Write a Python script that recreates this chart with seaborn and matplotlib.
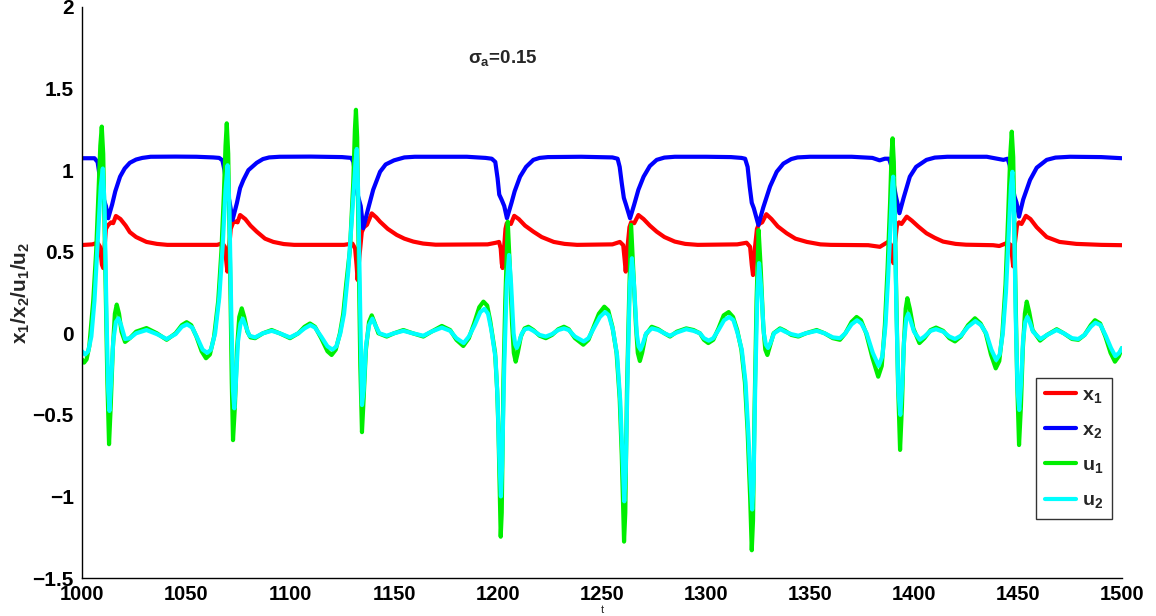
import matplotlib
matplotlib.use("Agg")
import matplotlib.pyplot as plt
import seaborn as sns
import numpy as np
import pandas as pd
from matplotlib.ticker import FuncFormatter

# ---------------- data ----------------
x2_t = [1000, 1006, 1007.5, 1009, 1010.5, 1011.5, 1012.6, 1014.5, 1016, 1018.3, 1020.5, 1023, 1026, 1029, 1033, 1045, 1055, 1063, 1066,
        1067.5, 1068.5, 1069.5, 1071, 1072.4, 1074.5, 1076, 1077.6, 1080, 1084, 1087, 1090, 1095, 1110, 1125, 1129.5,
        1130.5, 1131.5, 1132.5, 1134, 1135.2, 1137.5, 1140, 1143.3, 1146, 1150, 1155, 1160, 1185, 1194, 1197,
        1198.7, 1199.8, 1200.6, 1201.8, 1203, 1204.3, 1206.5, 1208, 1210.6, 1213.5, 1217, 1220, 1224, 1240, 1255, 1257.5,
        1258.5, 1259.5, 1260.5, 1261.5, 1263.5, 1265.5, 1267.5, 1270, 1273, 1276.3, 1280, 1285, 1300, 1312, 1317, 1318.8,
        1320, 1321, 1322, 1323, 1325.2, 1327.5, 1330.8, 1334, 1337.2, 1341, 1344, 1350, 1370, 1380, 1383.5, 1386, 1388,
        1389, 1390, 1391.3, 1392, 1393, 1395, 1398, 1401, 1406, 1410, 1416, 1435, 1440, 1443, 1445,
        1446, 1447, 1448.3, 1449.3, 1450.5, 1452.5, 1455.8, 1459, 1463.8, 1468, 1475, 1490, 1500]
x2_v = [1.073, 1.073, 1.05, 0.92, 0.82, 0.78, 0.705, 0.79, 0.87, 0.96, 1.01, 1.045, 1.065, 1.075, 1.082, 1.083, 1.082, 1.078, 1.075,
        1.06, 1.0, 0.90, 0.80, 0.695, 0.80, 0.89, 0.94, 1.0, 1.045, 1.068, 1.078, 1.082, 1.083, 1.08, 1.075,
        1.05, 0.95, 0.85, 0.78, 0.644, 0.76, 0.88, 0.99, 1.035, 1.06, 1.078, 1.082, 1.082, 1.075, 1.07,
        1.05, 0.95, 0.85, 0.817, 0.78, 0.705, 0.80, 0.87, 0.96, 1.02, 1.063, 1.075, 1.08, 1.082, 1.078, 1.07,
        1.02, 0.92, 0.83, 0.79, 0.705, 0.79, 0.88, 0.96, 1.025, 1.063, 1.077, 1.082, 1.082, 1.08, 1.075, 1.07,
        1.02, 0.90, 0.80, 0.766, 0.664, 0.77, 0.90, 0.99, 1.04, 1.068, 1.078, 1.082, 1.082, 1.075, 1.06, 1.07, 1.07,
        1.03, 0.93, 0.84, 0.80, 0.736, 0.83, 0.96, 1.02, 1.063, 1.077, 1.082, 1.082, 1.07, 1.063, 1.07,
        1.03, 0.93, 0.84, 0.80, 0.715, 0.82, 0.94, 1.015, 1.063, 1.077, 1.082, 1.08, 1.073]

x1_t = [1000, 1005, 1007.5, 1008.7, 1009.6, 1010.2, 1010.8, 1011.5, 1012.6, 1014, 1015, 1016.3, 1018.5, 1021, 1023, 1026, 1031, 1036, 1041, 1065,
        1067.5, 1068.7, 1069.3, 1069.9, 1070.6, 1071.5, 1072.7, 1074, 1074.8, 1076, 1078.5, 1081, 1084, 1088, 1092, 1097, 1102, 1126,
        1130, 1131.3, 1132.0, 1132.5, 1133.3, 1134.5, 1135.5, 1137, 1139.3, 1141.5, 1143.3, 1147, 1151.3, 1155, 1159.3, 1164, 1170, 1195,
        1199, 1200.5, 1201.3, 1201.8, 1202.2, 1202.9, 1203.6, 1204.2, 1205.5, 1206.2, 1207.8, 1210, 1213, 1217, 1221, 1226.8, 1232, 1238, 1255,
        1258.6, 1260.2, 1260.9, 1261.4, 1262.2, 1263.2, 1264, 1265.5, 1267.5, 1270, 1273, 1276.3, 1280, 1285, 1290, 1296, 1315,
        1319.5, 1321.2, 1322.0, 1322.6, 1323.5, 1324.5, 1325.5, 1327, 1329, 1331.5, 1334.5, 1338.8, 1343, 1348.5, 1355, 1360, 1378,
        1383.6, 1387.5, 1389, 1389.6, 1390.1, 1390.8, 1391.8, 1392.8, 1394, 1396.5, 1399, 1402, 1406, 1410, 1414, 1420, 1425, 1438,
        1441, 1445, 1446.6, 1447.2, 1447.7, 1448.5, 1449.5, 1450.5, 1451.7, 1453.8, 1456, 1459, 1463.8, 1470, 1478, 1490, 1500]
x1_v = [0.541, 0.545, 0.555, 0.53, 0.42, 0.40, 0.52, 0.64, 0.664, 0.68, 0.675, 0.719, 0.70, 0.66, 0.62, 0.59, 0.56, 0.548, 0.542, 0.542,
        0.552, 0.53, 0.45, 0.378, 0.50, 0.64, 0.68, 0.685, 0.68, 0.725, 0.70, 0.66, 0.623, 0.58, 0.56, 0.547, 0.542, 0.542,
        0.55, 0.52, 0.42, 0.327, 0.46, 0.62, 0.65, 0.665, 0.735, 0.71, 0.684, 0.64, 0.603, 0.58, 0.562, 0.55, 0.543, 0.545,
        0.555, 0.56, 0.52, 0.43, 0.40, 0.52, 0.64, 0.674, 0.675, 0.67, 0.72, 0.70, 0.66, 0.623, 0.59, 0.56, 0.548, 0.542, 0.545,
        0.56, 0.54, 0.45, 0.378, 0.52, 0.65, 0.68, 0.675, 0.725, 0.70, 0.66, 0.623, 0.59, 0.562, 0.548, 0.542, 0.545,
        0.555, 0.53, 0.42, 0.357, 0.52, 0.64, 0.67, 0.68, 0.73, 0.70, 0.655, 0.613, 0.58, 0.56, 0.545, 0.542, 0.54,
        0.53, 0.56, 0.54, 0.47, 0.43, 0.55, 0.66, 0.68, 0.67, 0.715, 0.69, 0.655, 0.613, 0.585, 0.562, 0.548, 0.543, 0.54,
        0.535, 0.555, 0.54, 0.47, 0.41, 0.55, 0.66, 0.68, 0.67, 0.72, 0.70, 0.65, 0.59, 0.56, 0.548, 0.542, 0.54]

u1_t = [1000, 1001, 1002.2, 1003.5, 1005.4, 1006.8, 1007.8, 1008.8, 1009.5, 1010.2, 1011.2, 1012.2, 1013, 1013.8, 1014.8, 1015.8, 1016.7,
        1017.8, 1019, 1020.7, 1023, 1026, 1031, 1036, 1040.7, 1045, 1048, 1050.3, 1052.5, 1055, 1057.5, 1059.6, 1061.5, 1063.5,
        1065.5, 1067, 1068.2, 1069, 1069.6, 1070.3, 1071.2, 1072, 1072.6, 1073.5, 1074.5, 1075.6, 1076.8, 1078, 1079.5, 1081,
        1083.2, 1087, 1091.2, 1095, 1100, 1104, 1107, 1109.6, 1112, 1115, 1118, 1120, 1122, 1124, 1125.6, 1127, 1128.8, 1130.4,
        1131.2, 1131.7, 1132.3, 1133, 1133.8, 1134.6, 1135.4, 1136.5, 1138, 1139.3, 1140.5, 1142.5, 1146.5, 1150, 1154.5, 1159,
        1164.1, 1168, 1173, 1177, 1180, 1183.3, 1186, 1188.5, 1191, 1193, 1194.8, 1196.2, 1198.6, 1199.6, 1200.2, 1200.8, 1201.3,
        1201.8, 1202.6, 1203.5, 1204.7, 1205.7, 1206.8, 1207.6, 1208.5, 1209.5, 1211, 1212.8, 1214.6, 1217, 1220, 1223, 1226,
        1229, 1231.7, 1234, 1237, 1241, 1243.5, 1246, 1248.5, 1251.1, 1253, 1255, 1257, 1258.5, 1259.5, 1260.6, 1261.2, 1262.0,
        1263, 1264, 1265, 1266.3, 1267.2, 1268.2, 1269.3, 1271, 1273.9, 1277, 1280, 1282.7, 1286, 1290.5, 1294, 1297.1, 1299,
        1301.1, 1303.5, 1306, 1308.5, 1310.9, 1313, 1315, 1317, 1318.7, 1320, 1321.2, 1322, 1322.6, 1323.3, 1324.3, 1325.3,
        1326.3, 1327.5, 1328.5, 1329.5, 1330.7, 1332.5, 1335.6, 1338, 1341, 1344.4, 1348, 1353.2, 1357, 1361, 1364.4, 1367,
        1370, 1372.4, 1374.5, 1377, 1380, 1382.8, 1384.5, 1386, 1387.3, 1388.5, 1389.2, 1389.7, 1390.3, 1391.3, 1392.3, 1393.3,
        1394.2, 1395, 1396, 1396.8, 1398, 1399.7, 1402.6, 1405, 1408, 1410.6, 1414, 1417, 1419.7, 1422.5, 1426, 1429.3, 1432,
        1434.5, 1437, 1439.3, 1441, 1442.5, 1444, 1445.2, 1446.3, 1447, 1447.7, 1448.6, 1449.6, 1450.5, 1451.4, 1452.3, 1453.3,
        1454.2, 1455.4, 1457, 1460.6, 1464, 1468.6, 1472, 1476, 1479, 1482, 1485, 1487, 1489.5, 1492, 1494.5, 1496.6, 1498.5, 1500]
u1_v = [-0.16, -0.18, -0.16, -0.08, 0.20, 0.50, 0.82, 1.15, 1.267, 1.10, 0.40, -0.30, -0.68, -0.45, -0.10, 0.12, 0.176,
        0.12, 0.01, -0.053, -0.03, 0.01, 0.032, 0.00, -0.04, 0.0, 0.05, 0.068, 0.05, -0.02, -0.11, -0.153, -0.13, -0.02,
        0.20, 0.50, 0.85, 1.15, 1.287, 1.10, 0.40, -0.30, -0.655, -0.45, -0.10, 0.10, 0.153, 0.10, 0.01, -0.025,
        -0.03, 0.0, 0.02, 0.0, -0.03, 0.0, 0.04, 0.06, 0.04, -0.03, -0.11, -0.133, -0.10, 0.0, 0.12, 0.30, 0.51, 0.92,
        1.25, 1.37, 1.20, 0.50, -0.20, -0.606, -0.40, -0.10, 0.07, 0.11, 0.07, 0.0, -0.02, 0.0, 0.02, 0.0,
        -0.02, 0.01, 0.045, 0.02, -0.04, -0.078, -0.03, 0.06, 0.16, 0.194, 0.17, 0.08, -0.12, -0.35, -0.59, -0.95, -1.247,
        -1.10, -0.29, 0.20, 0.684, 0.40, 0.05, -0.12, -0.174, -0.12, -0.02, 0.03, 0.04, 0.02, -0.015, -0.03, -0.01,
        0.025, 0.04, 0.025, -0.03, -0.07, -0.04, 0.04, 0.12, 0.163, 0.14, 0.04, -0.12, -0.40, -0.75, -1.277, -1.10, -0.35,
        0.20, 0.664, 0.40, 0.05, -0.12, -0.17, -0.12, -0.01, 0.04, 0.025, 0.0, -0.02, 0.01, 0.03, 0.02, 0.0, -0.04,
        -0.06, -0.04, 0.03, 0.11, 0.13, 0.10, 0.02, -0.10, -0.30, -0.60, -1.00, -1.33, -1.15, -0.50, 0.20, 0.633,
        0.40, 0.05, -0.10, -0.133, -0.08, 0.0, 0.03, 0.015, -0.01, -0.02, 0.0, 0.02, 0.0, -0.03, -0.04, 0.0,
        0.07, 0.10, 0.08, 0.0, -0.15, -0.266, -0.20, 0.05, 0.40, 0.80, 1.10, 1.195, 1.05, 0.35, -0.30, -0.715,
        -0.45, -0.10, 0.15, 0.215, 0.15, 0.03, -0.06, -0.03, 0.02, 0.035, 0.015, -0.03, -0.05, -0.02, 0.05, 0.092, 0.06,
        0.0, -0.13, -0.215, -0.17, 0.0, 0.30, 0.70, 1.10, 1.236, 1.08, 0.40, -0.30, -0.685, -0.45, -0.10, 0.12,
        0.194, 0.13, 0.02, -0.045, -0.01, 0.025, 0.0, -0.035, -0.04, -0.01, 0.05, 0.08, 0.06, -0.02, -0.12, -0.174, -0.14, -0.09]

u2_t = [1000, 1001.5, 1003, 1004.5, 1006, 1007.5, 1009, 1010, 1010.8, 1011.8, 1012.6, 1013.2, 1014, 1015, 1016.3, 1017.5,
        1018.8, 1020.7, 1023, 1026, 1031, 1036, 1040.7, 1045, 1048, 1050.5, 1053, 1055.5, 1058, 1060.2, 1062, 1064,
        1066, 1067.7, 1069, 1070, 1070.8, 1071.8, 1072.6, 1073.2, 1074, 1075, 1076.2, 1077.3, 1078.5, 1080.5,
        1083.2, 1087, 1091.2, 1095, 1100, 1104, 1107, 1109.8, 1112, 1115, 1118, 1120.4, 1122.3, 1124.2, 1126, 1128, 1130,
        1131.5, 1132.1, 1132.8, 1133.8, 1134.6, 1135.4, 1136.5, 1138, 1139.6, 1141, 1143, 1146.5, 1150, 1154.5, 1159,
        1164.1, 1168, 1173, 1177, 1180, 1183.5, 1186, 1188.8, 1191.5, 1193.5, 1195.2, 1196.8, 1198.8, 1199.8, 1200.6, 1201.4,
        1202, 1203, 1204.2, 1205.3, 1206.3, 1207.5, 1208.3, 1209, 1210, 1211.5, 1213, 1214.8, 1217, 1220, 1223, 1226,
        1229, 1231.7, 1234, 1237, 1241.2, 1243.5, 1246, 1249, 1251.5, 1253.3, 1255.3, 1257.3, 1258.8, 1259.8, 1260.7, 1261.4,
        1262.4, 1263.4, 1264.4, 1265.4, 1266.7, 1267.6, 1268.5, 1269.5, 1271.2, 1274, 1277, 1280, 1282.7, 1286, 1290.5, 1294,
        1297.1, 1299, 1301.3, 1303.5, 1306, 1308.7, 1311.2, 1313.2, 1315.2, 1317.2, 1319, 1320.3, 1321.4, 1322.2, 1322.9,
        1323.7, 1324.7, 1325.5, 1326.5, 1327.8, 1328.8, 1329.8, 1331, 1332.7, 1335.8, 1338, 1341, 1344.4, 1348, 1353.2, 1357,
        1361, 1364.4, 1367, 1370, 1372.6, 1374.7, 1377.2, 1380.2, 1383, 1384.8, 1386.3, 1387.6, 1388.8, 1389.6, 1390, 1390.7,
        1391.6, 1392.5, 1393.4, 1394.3, 1395.2, 1396.3, 1397.2, 1398.3, 1400, 1402.8, 1405, 1408, 1410.6, 1414, 1417, 1419.7,
        1422.5, 1426, 1429.5, 1432.2, 1434.7, 1437.2, 1439.5, 1441.2, 1442.7, 1444.2, 1445.5, 1446.6, 1447.3, 1448, 1448.9,
        1449.8, 1450.6, 1451.5, 1452.4, 1453.5, 1454.5, 1455.6, 1457.2, 1460.8, 1464, 1468.6, 1472, 1476, 1479, 1482, 1485,
        1487.2, 1489.7, 1492.2, 1494.7, 1496.8, 1498.6, 1500]
u2_v = [-0.11, -0.13, -0.11, -0.02, 0.20, 0.55, 0.90, 1.01, 0.80, 0.10, -0.35, -0.476, -0.30, -0.05, 0.07, 0.092,
        0.05, -0.035, -0.03, 0.0, 0.02, -0.005, -0.035, -0.005, 0.04, 0.055, 0.035, -0.03, -0.10, -0.12, -0.10, 0.0,
        0.22, 0.55, 0.88, 1.03, 0.80, 0.10, -0.35, -0.46, -0.30, -0.05, 0.06, 0.09, 0.05, -0.015,
        -0.025, 0.0, 0.015, 0.0, -0.025, 0.0, 0.03, 0.05, 0.035, -0.02, -0.08, -0.10, -0.08, 0.0, 0.12, 0.38, 0.75,
        1.05, 1.13, 0.85, 0.10, -0.44, -0.35, -0.08, 0.05, 0.09, 0.05, 0.0, -0.015, 0.0, 0.015, 0.0,
        -0.015, 0.01, 0.035, 0.015, -0.03, -0.06, -0.02, 0.05, 0.13, 0.15, 0.12, 0.02, -0.15, -0.40, -0.75, -1.00,
        -0.80, -0.20, 0.30, 0.48, 0.30, 0.0, -0.07, -0.09, -0.06, 0.0, 0.025, 0.03, 0.015, -0.01, -0.02, -0.005,
        0.02, 0.03, 0.02, -0.02, -0.05, -0.03, 0.03, 0.10, 0.13, 0.11, 0.02, -0.14, -0.42, -0.75, -1.03, -0.85,
        -0.20, 0.30, 0.46, 0.30, 0.0, -0.08, -0.10, -0.07, 0.0, 0.03, 0.02, 0.0, -0.015, 0.005, 0.025, 0.015,
        0.0, -0.03, -0.045, -0.03, 0.02, 0.08, 0.10, 0.08, 0.0, -0.10, -0.30, -0.60, -0.90, -1.08, -0.90,
        -0.30, 0.25, 0.43, 0.28, 0.0, -0.07, -0.09, -0.06, 0.0, 0.025, 0.01, -0.005, -0.015, 0.0, 0.015, 0.0,
        -0.025, -0.03, 0.0, 0.055, 0.08, 0.06, 0.0, -0.12, -0.20, -0.14, 0.05, 0.35, 0.70, 0.92, 0.96, 0.75,
        0.10, -0.35, -0.50, -0.32, -0.05, 0.09, 0.12, 0.08, 0.01, -0.04, -0.02, 0.015, 0.025, 0.01, -0.02, -0.035,
        -0.015, 0.04, 0.075, 0.05, 0.0, -0.10, -0.164, -0.13, 0.0, 0.25, 0.60, 0.90, 0.99, 0.80, 0.10,
        -0.35, -0.47, -0.30, -0.05, 0.07, 0.10, 0.07, 0.01, -0.035, -0.01, 0.02, 0.0, -0.03, -0.035, -0.01, 0.04,
        0.065, 0.05, -0.015, -0.09, -0.14, -0.12, -0.09]

series_names = ["x$_\\mathbf{1}$", "x$_\\mathbf{2}$", "u$_\\mathbf{1}$", "u$_\\mathbf{2}$"]
series_colors = ["#ff0000", "#0000ff", "#00ee00", "#00ffff"]
x_ticks = [1000, 1050, 1100, 1150, 1200, 1250, 1300, 1350, 1400, 1450, 1500]
y_ticks = [-1.5, -1, -0.5, 0, 0.5, 1, 1.5, 2]

# ---------------- plotting ----------------
sns.set_style("white")
plt.rcParams["font.family"] = ["Liberation Sans", "DejaVu Sans"]
plt.rcParams["font.weight"] = "bold"
plt.rcParams["mathtext.fontset"] = "custom"
plt.rcParams["mathtext.rm"] = "Liberation Sans:bold"
plt.rcParams["mathtext.bf"] = "Liberation Sans:bold"
plt.rcParams["mathtext.it"] = "Liberation Sans:bold"
plt.rcParams["axes.unicode_minus"] = True

fig = plt.figure(figsize=(11.56, 6.16), dpi=100)
ax = fig.add_axes([82 / 1156, 1 - 578 / 616, 1040 / 1156, 571 / 616])

data = [(x1_t, x1_v), (x2_t, x2_v), (u1_t, u1_v), (u2_t, u2_v)]
for (tt, vv), name, col in zip(data, series_names, series_colors):
    sns.lineplot(x=tt, y=vv, ax=ax, color=col, linewidth=3.0, label=name,
                 estimator=None, sort=False, solid_joinstyle="round", solid_capstyle="round")

ax.set_xlim(1000, 1500)
ax.set_ylim(-1.5, 2)
ax.set_xticks(x_ticks)
ax.set_yticks(y_ticks)
ax.yaxis.set_major_formatter(FuncFormatter(lambda v, p: ("%g" % v).replace("-", "\u2212")))
ax.tick_params(direction="in", length=7, width=1, color="#555555", labelcolor="black")
ax.tick_params(axis="y", labelsize=15, pad=6)
ax.tick_params(axis="x", labelsize=14.5, pad=5)
for lab in ax.get_xticklabels() + ax.get_yticklabels():
    lab.set_fontweight("bold")

for s in ["top", "right"]:
    ax.spines[s].set_visible(False)
for s in ["left", "bottom"]:
    ax.spines[s].set_color("black")
    ax.spines[s].set_linewidth(1.0)

ax.set_xlabel("t", fontsize=8, fontweight="normal", labelpad=1)
ax.set_ylabel(r"x$_\mathbf{1}$/x$_\mathbf{2}$/u$_\mathbf{1}$/u$_\mathbf{2}$", fontsize=15, fontweight="bold", labelpad=0)

ax.text(1185.5, 1.655, r"$\sigma_\mathbf{a}$=0.15", fontsize=13.5, fontweight="bold", ha="left", va="baseline")

leg = ax.legend(loc="lower right", bbox_to_anchor=(0.990, 0.103), borderaxespad=0,
                fontsize=14, frameon=True, fancybox=False, handlelength=1.6, handletextpad=0.3,
                labelspacing=0.85, borderpad=0.45)
leg.get_frame().set_edgecolor("black")
leg.get_frame().set_linewidth(1.0)
for line in leg.get_lines():
    line.set_linewidth(3.0)

fig.savefig("out.png", dpi=100)
